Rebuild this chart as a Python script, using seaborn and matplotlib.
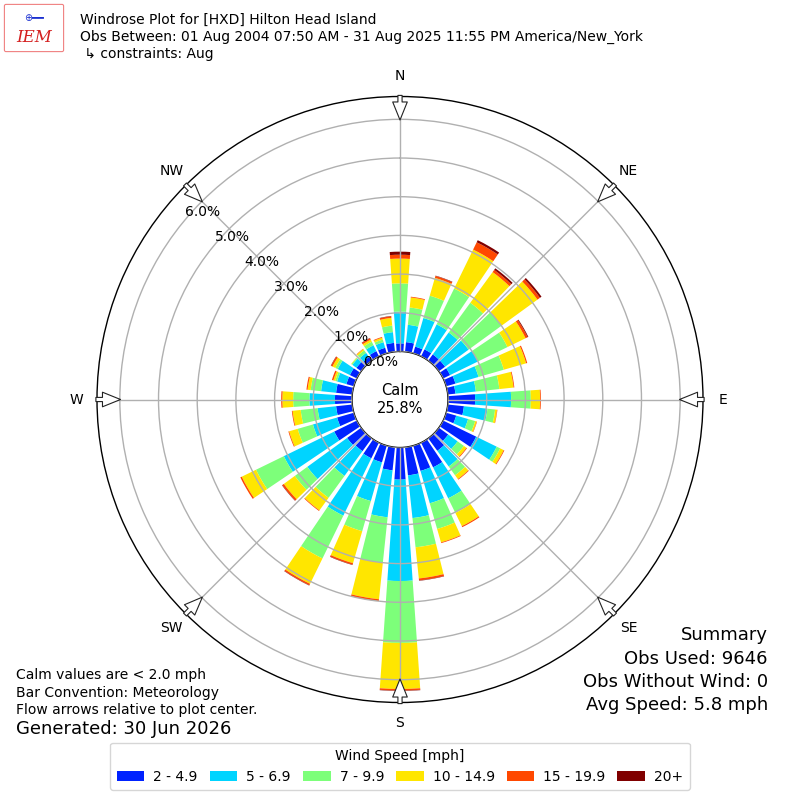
import numpy as np
import pandas as pd
import matplotlib
matplotlib.use("Agg")
import matplotlib.pyplot as plt
import seaborn as sns
from matplotlib.patches import Patch, FancyBboxPatch

# ---------------- data ----------------
directions = list(range(0, 360, 10))  # bar centre, degrees from north
speed_bins = ["2 - 4.9", "5 - 6.9", "7 - 9.9", "10 - 14.9", "15 - 19.9", "20+"]
bin_colors = ["#0022ff", "#00d4ff", "#7dff7a", "#ffe600", "#ff4800", "#800000"]

pct_2_5 = [0.21, 0.25, 0.18, 0.20, 0.20, 0.20, 0.20, 0.25, 0.20, 0.70, 0.42, 0.27,
           0.95, 0.30, 0.40, 0.71, 0.68, 0.73, 0.83, 0.60, 0.45, 0.45, 0.41, 0.45,
           0.65, 0.45, 0.42, 0.44, 0.42, 0.20, 0.20, 0.15, 0.12, 0.15, 0.15, 0.23]
pct_5_7 = [0.82, 0.45, 0.77, 0.72, 0.70, 0.75, 0.80, 0.62, 0.53, 0.93, 0.61, 0.32,
           0.59, 0.30, 0.50, 0.89, 0.87, 1.11, 2.62, 1.22, 1.04, 1.65, 0.79, 1.27,
           1.45, 0.65, 0.48, 0.66, 0.39, 0.25, 0.35, 0.13, 0.13, 0.17, 0.15, 0.28]
pct_7_10 = [0.73, 0.45, 0.60, 1.03, 0.95, 1.05, 0.85, 0.68, 0.61, 0.51, 0.20, 0.19,
            0.10, 0.20, 0.28, 0.42, 0.69, 0.76, 1.60, 1.18, 0.81, 1.23, 0.70, 0.40,
            0.80, 0.41, 0.44, 0.42, 0.27, 0.05, 0.07, 0.03, 0.08, 0.10, 0.07, 0.17]
pct_10_15 = [0.64, 0.26, 0.48, 1.12, 0.98, 1.15, 0.52, 0.60, 0.37, 0.24, 0.05, 0.04,
             0.10, 0.08, 0.12, 0.38, 0.36, 0.81, 1.19, 0.95, 0.86, 0.73, 0.40, 0.35,
             0.41, 0.23, 0.21, 0.28, 0.08, 0.05, 0.08, 0.01, 0.04, 0.06, 0.05, 0.20]
pct_15_20 = [0.10, 0.02, 0.05, 0.21, 0.07, 0.08, 0.06, 0.03, 0.02, 0.02, 0.01, 0.01,
             0.02, 0.02, 0.02, 0.03, 0.02, 0.05, 0.04, 0.05, 0.04, 0.04, 0.02, 0.05,
             0.04, 0.02, 0.02, 0.03, 0.03, 0.04, 0.04, 0.00, 0.01, 0.04, 0.02, 0.04]
pct_20p = [0.08, 0.00, 0.01, 0.06, 0.05, 0.05, 0.02, 0.00, 0.00, 0.00, 0.00, 0.00,
           0.00, 0.00, 0.00, 0.00, 0.00, 0.01, 0.01, 0.00, 0.01, 0.01, 0.00, 0.01,
           0.00, 0.00, 0.00, 0.00, 0.00, 0.00, 0.01, 0.00, 0.00, 0.01, 0.00, 0.01]

rticks = [0, 1, 2, 3, 4, 5, 6]
rtick_labels = ["0.0%", "1.0%", "2.0%", "3.0%", "4.0%", "5.0%", "6.0%"]
compass_angles = [0, 45, 90, 135, 180, 225, 270, 315]
compass_labels = ["N", "NE", "E", "SE", "S", "SW", "W", "NW"]

calm_pct = "25.8%"
title_lines = ["Windrose Plot for [HXD] Hilton Head Island",
               "Obs Between: 01 Aug 2004 07:50 AM - 31 Aug 2025 11:55 PM America/New_York",
               " \u21b3 constraints: Aug"]
notes = ["Calm values are < 2.0 mph", "Bar Convention: Meteorology",
         "Flow arrows relative to plot center."]
generated = "Generated: 30 Jun 2026"
summary = ["Summary", "Obs Used: 9646", "Obs Without Wind: 0", "Avg Speed: 5.8 mph"]

df = pd.DataFrame({"dir": directions})
for name, vals in zip(speed_bins, [pct_2_5, pct_5_7, pct_7_10, pct_10_15, pct_15_20, pct_20p]):
    df[name] = vals

# ---------------- style ----------------
sns.set_style("white")
plt.rcParams["font.family"] = ["DejaVu Sans"]
plt.rcParams["text.color"] = "black"
plt.rcParams["xtick.color"] = "black"
plt.rcParams["ytick.color"] = "black"
palette = sns.color_palette(bin_colors)

fig = plt.figure(figsize=(8, 8), dpi=100)
ax = fig.add_axes([97 / 800, 97.5 / 800, 606 / 800, 606 / 800], projection="polar")
ax.set_theta_zero_location("N")
ax.set_theta_direction(-1)

theta = np.deg2rad(df["dir"].to_numpy())
bottom = np.zeros(len(df))
for name, col in zip(speed_bins, palette):
    vals = df[name].to_numpy()
    ax.bar(theta, vals, width=np.deg2rad(8.0), bottom=bottom, color=col,
           edgecolor="none", align="center", zorder=2)
    bottom = bottom + vals

ax.set_rorigin(-1.241)
ax.set_ylim(0, 6.59)
ax.set_yticks(rticks)
ax.set_yticklabels(rtick_labels, fontsize=10)
ax.set_rlabel_position(310)
ax.set_xticks(np.deg2rad(compass_angles))
ax.set_xticklabels(compass_labels, fontsize=10)
ax.tick_params(axis="x", pad=4, colors="black")
ax.tick_params(axis="y", colors="black")
ax.grid(True, color="#b0b0b0", lw=1.0)
ax.set_axisbelow(False)
for sp in ax.spines.values():
    sp.set_color("black")
    sp.set_linewidth(1.0)

# calm text
ax.text(0.5, 0.5, "Calm\n" + calm_pct, transform=ax.transAxes, ha="center",
        va="center", fontsize=10.5, zorder=5)

# flow arrows on the rim
for ang in compass_angles:
    ax.annotate("", xy=(np.deg2rad(ang), 5.91), xytext=(np.deg2rad(ang), 6.69),
                arrowprops=dict(arrowstyle="simple,head_length=1.3,head_width=1.05,tail_width=0.3",
                                fc="white", ec="#222222", lw=0.8),
                annotation_clip=False, zorder=6)

# header
for i, line in enumerate(title_lines):
    fig.text(80 / 800, 1 - (20 + 17 * i) / 800, line, fontsize=10, va="center", ha="left")

# logo
fig.patches.append(FancyBboxPatch((6 / 800, 1 - 50 / 800), 56 / 800, 44 / 800,
                                  boxstyle="round,pad=0.002", transform=fig.transFigure,
                                  fc="none", ec="#f08080", lw=0.8))
fig.text(34 / 800, 1 - 38 / 800, "IEM", fontsize=12, color="#d42020", style="italic",
         family="DejaVu Serif", ha="center", va="center")
fig.text(34 / 800, 1 - 18 / 800, "\u2295\u2501\u2501", fontsize=7, color="#1a2fd0",
         ha="center", va="center")

# bottom-left notes
for i, line in enumerate(notes):
    fig.text(16 / 800, 1 - (675 + 17.5 * i) / 800, line, fontsize=10, va="center")
fig.text(16 / 800, 1 - 729 / 800, generated, fontsize=13, va="center")

# summary
for i, line in enumerate(summary):
    fig.text(768 / 800, 1 - (635 + 23.5 * i) / 800, line, fontsize=13, va="center", ha="right")

# legend
handles = [Patch(facecolor=c, edgecolor="none", label=l) for c, l in zip(palette, speed_bins)]
leg = fig.legend(handles=handles, loc="lower center", bbox_to_anchor=(0.5, 3 / 800),
                 ncol=6, fontsize=10, title="Wind Speed [mph]", title_fontsize=10,
                 frameon=True, handlelength=2.0, handletextpad=0.65, columnspacing=0.85,
                 borderpad=0.45)
leg.get_frame().set_edgecolor("#cccccc")

fig.savefig("out.png", dpi=100)
